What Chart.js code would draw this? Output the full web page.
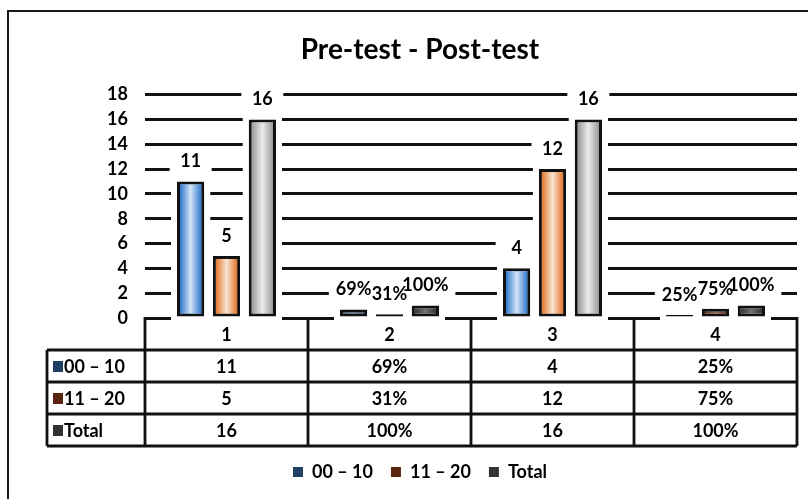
<!DOCTYPE html>
<html>
<head>
<meta charset="utf-8">
<script src="https://cdn.jsdelivr.net/npm/chart.js@4.4.1/dist/chart.umd.min.js"></script>
<style>
  html, body { margin: 0; padding: 0; background: #fff; overflow: hidden; }
  #wrap { position: relative; width: 808px; height: 499px; }
  #frame { position: absolute; left: 7px; top: 10px; width: 900px; height: 600px; border: 2px solid #1a1a1a; }
  #c { position: absolute; left: 0; top: 0; }
</style>
</head>
<body>
<div id="wrap">
  <div id="frame"></div>
  <canvas id="c" width="808" height="499"></canvas>
</div>
<script>
// ── DATA ───────────────────────────────────────────────────────────────────
const categories  = ['1', '2', '3', '4'];
const seriesNames = ['00 – 10', '11 – 20', 'Total'];
const low   = [11, 0.69, 4, 0.25];   // 00 – 10
const high  = [5, 0.31, 12, 0.75];   // 11 – 20
const total = [16, 1, 16, 1];
const percentCats = [false, true, false, true];

// ── STYLE ──────────────────────────────────────────────────────────────────
const BAR_COLORS = [
  ['#2f78d0', '#1d3b5e', '#2f78d0', '#151515'],
  ['#e2772a', '#151515', '#e2772a', '#6a2e12'],
  ['#9a9a9a', '#353535', '#9a9a9a', '#353535'],
];
const LEGEND_COLORS = ['#1f3f66', '#5a2510', '#333333'];
const GLOW = [0.8, 0.3, 0.8, 0.3];
const INK = '#111';
const FONT = 'bold 18px Lato, sans-serif';

const fmt = (v, i) => percentCats[i] ? Math.round(v * 100) + '%' : String(v);

Chart.defaults.font.family = 'Lato, "Open Sans", sans-serif';
Chart.defaults.color = '#000';

// halo behind bars, gradient glow on bars, value labels, data table
const excelLook = {
  id: 'excelLook',
  beforeDatasetsDraw(chart) {
    const ctx = chart.ctx;
    const base = chart.chartArea.bottom;
    ctx.save();
    ctx.fillStyle = '#fff';
    chart.data.datasets.forEach((ds, di) => {
      chart.getDatasetMeta(di).data.forEach(el => {
        ctx.fillRect(el.x - el.width / 2 - 6, el.y - 4, el.width + 12, base - el.y + 6);
      });
    });
    ctx.restore();
  },
  afterDatasetsDraw(chart) {
    const ctx = chart.ctx;
    const bw = 3;
    ctx.save();
    // glow
    chart.data.datasets.forEach((ds, di) => {
      chart.getDatasetMeta(di).data.forEach((el, i) => {
        const x0 = el.x - el.width / 2 + bw, x1 = el.x + el.width / 2 - bw;
        const y0 = el.y + bw, y1 = el.base - bw;
        if (x1 <= x0 || y1 <= y0) return;
        const g = ctx.createLinearGradient(x0, 0, x1, 0);
        g.addColorStop(0, 'rgba(255,255,255,0)');
        g.addColorStop(0.5, 'rgba(255,255,255,' + GLOW[i] + ')');
        g.addColorStop(1, 'rgba(255,255,255,0)');
        ctx.fillStyle = g;
        ctx.fillRect(x0, y0, x1 - x0, y1 - y0);
      });
    });
    // value labels: boxes first, then text
    ctx.font = FONT;
    ctx.textAlign = 'center';
    ctx.textBaseline = 'middle';
    const labels = [];
    chart.data.datasets.forEach((ds, di) => {
      chart.getDatasetMeta(di).data.forEach((el, i) => {
        labels.push({ x: el.x, y: el.y - 21, t: fmt(ds.data[i], i) });
      });
    });
    ctx.fillStyle = '#fff';
    labels.forEach(l => {
      const w = Math.max(ctx.measureText(l.t).width + 14, 42);
      ctx.fillRect(l.x - w / 2, l.y - 12, w, 24);
    });
    ctx.fillStyle = '#000';
    labels.forEach(l => ctx.fillText(l.t, l.x, l.y + 1));
    ctx.restore();
  },
  afterDraw(chart) {
    const ctx = chart.ctx;
    const { left, right, bottom } = chart.chartArea;
    const xs = chart.scales.x;
    const rowH = 32;
    const tableLeft = 47;
    const colW = (right - left) / categories.length;
    const rows = [low, high, total];
    ctx.save();
    ctx.strokeStyle = INK;
    ctx.lineWidth = 2.8;
    ctx.beginPath();
    // vertical lines in the value area
    for (let i = 0; i <= categories.length; i++) {
      const x = left + i * colW;
      ctx.moveTo(x, bottom - 1);
      ctx.lineTo(x, bottom + rowH * 4);
    }
    // left label column
    ctx.moveTo(tableLeft, bottom + rowH);
    ctx.lineTo(tableLeft, bottom + rowH * 4);
    // horizontal lines
    for (let r = 1; r <= 4; r++) {
      const y = bottom + rowH * r;
      ctx.moveTo(tableLeft, y);
      ctx.lineTo(right, y);
    }
    ctx.stroke();

    ctx.font = FONT;
    ctx.textBaseline = 'middle';
    ctx.textAlign = 'center';
    ctx.fillStyle = '#000';
    categories.forEach((c, i) => {
      ctx.fillText(c, xs.getPixelForValue(i), bottom + rowH / 2 + 1);
    });
    rows.forEach((vals, r) => {
      const y = bottom + rowH * (r + 1) + rowH / 2 + 1;
      vals.forEach((v, i) => ctx.fillText(fmt(v, i), xs.getPixelForValue(i), y));
      ctx.fillStyle = LEGEND_COLORS[r];
      ctx.fillRect(tableLeft + 6, y - 6, 10, 11);
      ctx.fillStyle = '#000';
      ctx.textAlign = 'left';
      ctx.fillText(seriesNames[r], tableLeft + 17, y);
      ctx.textAlign = 'center';
    });
    ctx.restore();
  },
};

new Chart(document.getElementById('c'), {
  type: 'bar',
  data: {
    labels: categories,
    datasets: [low, high, total].map((vals, s) => ({
      label: seriesNames[s],
      data: vals,
      backgroundColor: BAR_COLORS[s],
      borderColor: INK,
      borderWidth: 3,
      borderSkipped: false,
      categoryPercentage: 0.66,
      barPercentage: 0.76,
    })),
  },
  options: {
    responsive: false,
    animation: false,
    events: [],
    layout: { padding: { top: 18, left: 43, right: 11, bottom: 8 } },
    plugins: {
      title: {
        display: true,
        text: 'Pre-test - Post-test',
        font: { size: 28, weight: 'bold' },
        color: '#000',
        padding: { top: 15, bottom: 28 },
      },
      legend: {
        position: 'bottom',
        labels: {
          boxWidth: 10,
          boxHeight: 10,
          padding: 18,
          font: { size: 18, weight: 'bold' },
          color: '#000',
          generateLabels: () => seriesNames.map((n, i) => ({
            text: n,
            fillStyle: LEGEND_COLORS[i],
            strokeStyle: LEGEND_COLORS[i],
            lineWidth: 0,
            datasetIndex: i,
          })),
        },
      },
      tooltip: { enabled: false },
    },
    scales: {
      x: {
        grid: { display: false },
        border: { display: false },
        ticks: { display: false },
        afterFit: s => { s.height = 127; },
      },
      y: {
        min: 0,
        max: 18,
        ticks: { stepSize: 2, padding: 17, font: { size: 18, weight: 'bold' }, color: '#000' },
        grid: { color: INK, lineWidth: 3, drawTicks: false },
        border: { display: false },
        afterFit: s => { s.width = 102; },
      },
    },
  },
  plugins: [excelLook],
});
</script>
</body>
</html>
